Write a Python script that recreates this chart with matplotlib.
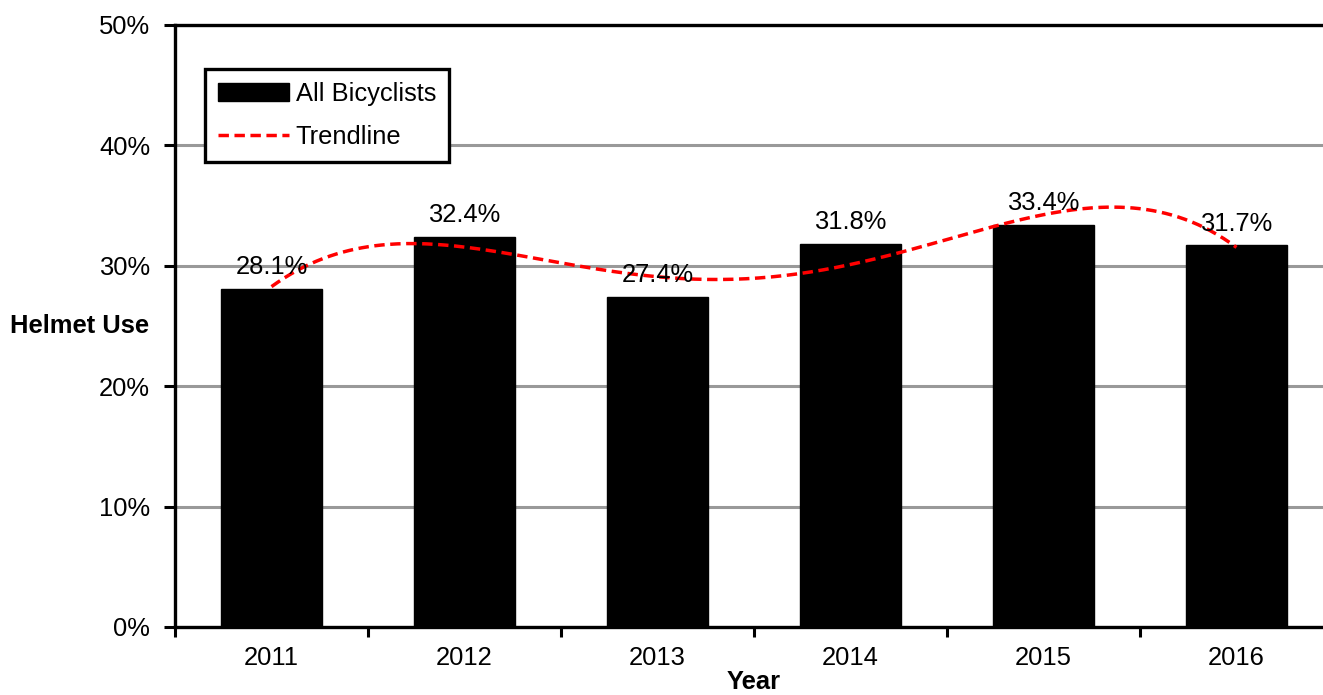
import numpy as np
import matplotlib
matplotlib.use('Agg')
import matplotlib.pyplot as plt
from matplotlib.ticker import FixedLocator, PercentFormatter

plt.rcParams['font.family'] = ['Liberation Sans', 'DejaVu Sans']

years = ['2011', '2012', '2013', '2014', '2015', '2016']
helmet_use = [28.1, 32.4, 27.4, 31.8, 33.4, 31.7]
bar_label = 'All Bicyclists'
trend_label = 'Trendline'

FS = 18.4
W, H = 1323, 695

fig = plt.figure(figsize=(W / 100, H / 100), dpi=100)
# axes runs a bit past the right edge of the picture, like the original
ax = fig.add_axes([175 / W, (H - 627) / H, (1333 - 175) / W, (627 - 25) / H])

xs = np.arange(len(years))
bars = ax.bar(xs, helmet_use, width=0.52, color='black', edgecolor='black', label=bar_label, zorder=2)

# 4th order polynomial trendline, as a spreadsheet would draw it
coef = np.polyfit(xs, helmet_use, 4)
xx = np.linspace(xs[0], xs[-1], 300)
trend, = ax.plot(xx, np.polyval(coef, xx), color='red', lw=2.5, ls=(0, (3, 1.6)),
                 label=trend_label, zorder=3)

for x, v in zip(xs, helmet_use):
    ax.annotate(f'{v:.1f}%', (x, v), xytext=(0, 7), textcoords='offset points',
                ha='center', va='bottom', fontsize=FS, zorder=4)

ax.set_xlim(-0.5, len(years) - 0.5)
ax.set_ylim(0, 50)
ax.set_yticks(np.arange(0, 51, 10))
ax.yaxis.set_major_formatter(PercentFormatter(decimals=0))
ax.yaxis.grid(True, color='#999999', lw=2.2, zorder=0)
ax.set_axisbelow(True)

ax.set_xticks(xs)
ax.set_xticklabels(years)
ax.xaxis.set_minor_locator(FixedLocator(np.arange(-0.5, len(years), 1.0)))
ax.tick_params(axis='x', which='major', length=0, pad=14, labelsize=FS)
ax.tick_params(axis='x', which='minor', length=7, width=2.2, direction='out')
ax.tick_params(axis='y', length=8, width=2.2, pad=10, labelsize=FS)

for s in ['top', 'bottom', 'left', 'right']:
    ax.spines[s].set_linewidth(2.4)
    ax.spines[s].set_color('black')

ax.set_xlabel('Year', fontsize=FS, fontweight='bold', labelpad=0)
ax.set_ylabel('Helmet Use', fontsize=FS, fontweight='bold', rotation=0,
              ha='center', va='center')
ax.yaxis.set_label_coords((80 - 175) / (1333 - 175), 0.5)

leg = ax.legend([bars, trend], [bar_label, trend_label],
                loc='upper left', bbox_to_anchor=(205 / W, 1 - 69 / H),
                bbox_transform=fig.transFigure, fontsize=FS, frameon=True,
                fancybox=False, edgecolor='black', handlelength=2.8,
                handleheight=0.75, handletextpad=0.25, labelspacing=0.75,
                borderpad=0.5, borderaxespad=0, framealpha=1)
leg.get_frame().set_linewidth(2.4)

fig.savefig('out.png', dpi=100)
